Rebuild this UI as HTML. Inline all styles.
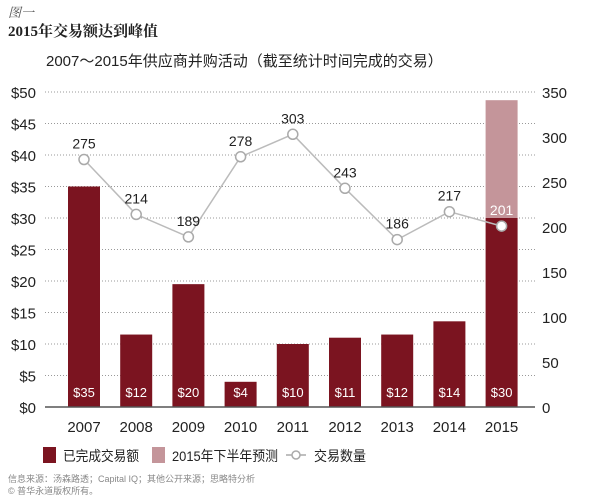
<!DOCTYPE html>
<html><head><meta charset="utf-8"><style>
body{margin:0;background:#fff;width:600px;height:497px;overflow:hidden;font-family:"Liberation Sans","Noto Sans CJK SC",sans-serif}
</style></head><body>
<svg id="c" width="600" height="497" xmlns="http://www.w3.org/2000/svg">
<text x="8" y="17" font-size="13" font-style="italic" fill="#555" font-family="Liberation Serif,Noto Serif CJK SC,serif">图一</text>
<text x="8" y="36" font-size="15" font-weight="bold" fill="#222" font-family="Liberation Serif,Noto Serif CJK SC,serif">2015年交易额达到峰值</text>
<text x="46" y="66" font-size="15" fill="#222">2007～2015年供应商并购活动（截至统计时间完成的交易）</text>
<g id="grid"></g><g id="bars"></g><g id="line"></g><g id="axes"></g>
<g>
<rect x="43" y="447" width="13" height="16" fill="#7b1420"/>
<text x="63" y="461" font-size="14" fill="#222" textLength="76" lengthAdjust="spacingAndGlyphs">已完成交易额</text>
<rect x="152" y="447" width="13" height="16" fill="#c4959a"/>
<text x="172" y="461" font-size="14" fill="#222" textLength="106" lengthAdjust="spacingAndGlyphs">2015年下半年预测</text>
<line x1="286" y1="455" x2="306" y2="455" stroke="#aaa" stroke-width="1.5"/>
<circle cx="296" cy="455" r="4" fill="#fff" stroke="#aaa" stroke-width="1.5"/>
<text x="314" y="461" font-size="14" fill="#222" textLength="52" lengthAdjust="spacingAndGlyphs">交易数量</text>
</g>
<text x="8" y="482" font-size="9" fill="#888">信息来源：汤森路透；Capital IQ；其他公开来源；思略特分析</text>
<text x="8" y="494" font-size="9" fill="#888">© 普华永道版权所有。</text>
</svg>
<script>
const years=["2007","2008","2009","2010","2011","2012","2013","2014","2015"];
const completed=[35,11.5,19.5,4,10,11,11.5,13.6,30];
const forecast=[0,0,0,0,0,0,0,0,18.7];
const barLabels=["$35","$12","$20","$4","$10","$11","$12","$14","$30"];
const counts=[275,214,189,278,303,243,186,217,201];
const leftTicks=[0,5,10,15,20,25,30,35,40,45,50];
const rightTicks=[0,50,100,150,200,250,300,350];
const NS="http://www.w3.org/2000/svg";
const y0=407,yTop=92,xL=45,xR=535;
const yL=v=>y0-(y0-yTop)*v/50;
const yR=v=>y0-(y0-yTop)*v/350;
const xC=i=>84+i*52.2;
function mk(t,a,p){const e=document.createElementNS(NS,t);for(const k in a)e.setAttribute(k,a[k]);p.appendChild(e);return e;}
const grid=document.getElementById('grid'),bars=document.getElementById('bars'),line=document.getElementById('line'),axes=document.getElementById('axes');
leftTicks.forEach(v=>{
 if(v>0){const g=mk('line',{x1:xL,x2:xR,y1:yL(v),y2:yL(v),stroke:'#999','stroke-dasharray':'1 2','stroke-width':1},grid);
 
 }
 const t=mk('text',{x:36,y:yL(v)+6,'font-size':15,fill:'#222','text-anchor':'end'},axes);t.textContent='$'+v;
 
 
});
rightTicks.forEach(v=>{
 const t=mk('text',{x:542,y:yR(v)+6,'font-size':15,fill:'#222'},axes);t.textContent=v;
 
 
});
years.forEach((y,i)=>{
 const w=32,x=xC(i)-w/2;
 const b=mk('rect',{x:x,y:yL(completed[i]),width:w,height:y0-yL(completed[i]),fill:'#7b1420'},bars);
 
 
 if(forecast[i]>0){const f=mk('rect',{x:x,y:yL(completed[i]+forecast[i]),width:w,height:yL(completed[i])-yL(completed[i]+forecast[i]),fill:'#c4959a'},bars);
 
 }
 const l=mk('text',{x:xC(i),y:397,'font-size':13,fill:'#fff','text-anchor':'middle'},bars);l.textContent=barLabels[i];
 
 
 const t=mk('text',{x:xC(i),y:432,'font-size':15,fill:'#222','text-anchor':'middle'},axes);t.textContent=y;
 
 
});
const ax=mk('line',{x1:xL,x2:xR,y1:y0,y2:y0,stroke:'#555','stroke-width':1.5},axes);


const pl=mk('polyline',{points:counts.map((c,i)=>xC(i)+','+yR(c)).join(' '),fill:'none',stroke:'#bbb','stroke-width':1.5},line);


counts.forEach((c,i)=>{
 const p=mk('circle',{cx:xC(i),cy:yR(c),r:5,fill:'#fff',stroke:'#aaa','stroke-width':1.5},line);
 
 
 const t=mk('text',{x:xC(i),y:yR(c)-11,'font-size':14,fill:i==8?'#fff':'#222','text-anchor':'middle'},line);t.textContent=c;
 
 
});
</script>
</body></html>
